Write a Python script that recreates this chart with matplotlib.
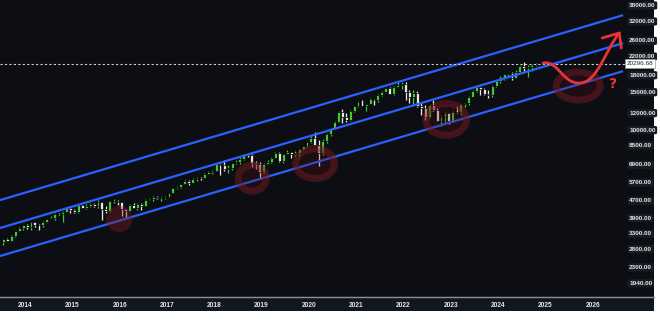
import numpy as np
import matplotlib
matplotlib.use("Agg")
import matplotlib.pyplot as plt
from matplotlib.patches import Rectangle, Ellipse, PathPatch
from matplotlib.path import Path
from matplotlib.lines import Line2D
import matplotlib.transforms as mtransforms

# Monthly Nasdaq 100 candles, Jul 2013 .. Oct 2024 (close, high, low)
start_year, start_month = 2013, 7
closes = [
    3085, 3049, 3218, 3379, 3499, 3592,
    3540, 3721, 3595, 3592, 3736, 3849, 3873, 4071, 4049, 4158, 4337, 4236,
    4152, 4440, 4334, 4415, 4508, 4397, 4591, 4274, 4181, 4648, 4665, 4593,
    4280, 4202, 4484, 4341, 4523, 4418, 4731, 4771, 4876, 4801, 4811, 4864,
    5094, 5330, 5436, 5584, 5788, 5647, 5880, 5988, 5979, 6248, 6367, 6397,
    6950, 6855, 6581, 6605, 6967, 7040, 7272, 7660, 7628, 6967, 6949, 6330,
    6906, 7097, 7378, 7781, 7128, 7672, 7848, 7692, 7750, 8083, 8403, 8733,
    9150, 8462, 7813, 8890, 9555, 10157, 10905, 12111, 11418, 11052, 12268, 12888,
    12925, 12909, 13091, 13860, 13687, 14554, 14960, 15583, 14690, 15850, 16135, 16320,
    14931, 14237, 14838, 12855, 12643, 11503, 12948, 12272, 10971, 11406, 11952, 10940,
    12102, 12042, 13181, 13246, 14254, 15180, 15758, 15501, 14715, 14410, 15947, 16826,
    17137, 18044, 18255, 17441, 18537, 19683, 19363, 19575, 20061, 20296.68,
]
highs = [
    3097, 3129, 3250, 3390, 3510, 3600,
    3625, 3728, 3738, 3640, 3743, 3855, 3960, 4085, 4115, 4169, 4345, 4340,
    4290, 4450, 4480, 4529, 4546, 4580, 4695, 4630, 4400, 4660, 4735, 4720,
    4580, 4295, 4500, 4570, 4535, 4540, 4735, 4815, 4890, 4900, 4870, 4920,
    5100, 5345, 5460, 5590, 5830, 5850, 5935, 6000, 6000, 6260, 6400, 6460,
    7022, 7000, 7187, 6825, 7000, 7245, 7470, 7690, 7690, 7700, 7150, 7100,
    6960, 7200, 7430, 7850, 7845, 7715, 8030, 7900, 7920, 8130, 8430, 8760,
    9300, 9730, 8950, 9000, 9600, 10210, 10990, 12150, 12440, 12000, 12350, 12900,
    13500, 13800, 13200, 14060, 13850, 14580, 15100, 15600, 15700, 15870, 16770, 16570,
    16580, 15300, 15270, 15100, 13350, 12950, 13000, 13720, 12620, 11600, 12050, 11940,
    12200, 12880, 13210, 13300, 14320, 15280, 15930, 15800, 15600, 15300, 16170, 16970,
    17660, 18140, 18420, 18470, 18900, 20000, 20690, 19960, 20200, 20450,
]
lows = [
    2905, 3044, 3030, 3174, 3360, 3422,
    3452, 3417, 3521, 3412, 3525, 3710, 3835, 3790, 4005, 3700, 4135, 4110,
    4087, 4100, 4300, 4290, 4390, 4380, 4300, 3787, 4080, 4150, 4580, 4460,
    3960, 3927, 4190, 4300, 4240, 4210, 4400, 4700, 4680, 4780, 4660, 4770,
    4870, 5080, 5290, 5340, 5580, 5520, 5620, 5780, 5830, 5980, 6210, 6250,
    6400, 6165, 6400, 6310, 6520, 6930, 6950, 7220, 7475, 6730, 6540, 5895,
    6260, 6890, 7000, 7400, 7100, 7000, 7670, 7400, 7550, 7540, 8070, 8280,
    8680, 8450, 6771, 7600, 8700, 9370, 10130, 10880, 10680, 10900, 11000, 12100,
    12700, 12880, 12210, 13100, 12970, 13500, 14400, 14950, 14650, 14500, 15700, 15500,
    13720, 13320, 13020, 12760, 11670, 11040, 11360, 12200, 10960, 10440, 10880, 10670,
    10880, 11960, 11700, 12700, 13000, 14150, 15000, 14560, 14500, 14060, 14120, 15700,
    16540, 17050, 17800, 16970, 17400, 18550, 18700, 17500, 18800, 19800,
]
last_price = 20296.68

# Channel lines drawn on the chart (start/end date, start/end price)
channel_dates = [2013.47, 2026.64]
channel_upper = [4700, 34060]
channel_middle = [3486, 25240]
channel_lower = [2582, 18700]

# Red highlight marks: (year, price, width px, height px)
highlight_year = [2015.99, 2018.80, 2020.13, 2022.90, 2025.69]
highlight_price = [3840, 5950, 6950, 11150, 15950]
highlight_w = [26, 35, 46, 48, 51]
highlight_h = [26, 33, 37, 39, 35]

# Red projected path (bezier control points) and arrow head
proj_year = [2024.95, 2025.27, 2025.35, 2025.73, 2026.11, 2026.26, 2026.56]
proj_price = [20400, 21070, 16300, 16470, 16650, 23450, 28130]
arrow_year = [2026.20, 2026.56, 2026.60]
arrow_price = [26680, 28130, 23960]

years = list(range(2014, 2027))
price_ticks = [38000, 32000, 26000, 22000, 18000, 15000, 12000, 10000, 8500,
               6900, 5700, 4700, 3900, 3300, 2800, 2300, 1940]

BG = "#0c0e14"
STRIP = "#12161f"
UP = "#43c43a"
DOWN = "#e6e6e6"
BLUE = "#2962ff"
RED = "#e8333a"
LABEL_FONT = ["DejaVu Sans Condensed", "Liberation Sans Narrow", "Liberation Sans", "DejaVu Sans"]

W, H = 660, 330
fig = plt.figure(figsize=(6.6, 3.3), dpi=100, facecolor="white")
fig.patches.append(Rectangle((0, 1 - 311 / H), 654 / W, 311 / H, transform=fig.transFigure,
                             facecolor=BG, edgecolor="none", zorder=-5))
fig.patches.append(Rectangle((0, 1 - 311 / H), 654 / W, 15 / H, transform=fig.transFigure,
                             facecolor=STRIP, edgecolor="none", zorder=-4))
fig.lines.append(Line2D([0, 654 / W], [1 - 296.5 / H] * 2, transform=fig.transFigure,
                        color="#8a8d94", lw=1.0, zorder=-3))

ax = fig.add_axes([0, 1 - 295 / H, 625 / W, 295 / H])
ax.set_zorder(1)
ax.set_facecolor(BG)
ax.set_yscale("log")
ax.set_xlim(2013.47, 2026.68)
ax.set_ylim(1702, 40060)
for s in ax.spines.values():
    s.set_visible(False)

# candles
n = len(closes)
dates = np.array([start_year + (start_month - 1 + i + 0.5) / 12 for i in range(n)])
closes_a = np.array(closes, dtype=float)
opens_a = np.concatenate([[3000.0], closes_a[:-1]])
highs_a = np.array(highs, dtype=float)
lows_a = np.array(lows, dtype=float)
cols = np.where(closes_a >= opens_a, UP, DOWN)
ax.vlines(dates, lows_a, highs_a, colors="black", lw=2.6, zorder=2)
ax.vlines(dates, lows_a, highs_a, colors=cols, lw=1.0, zorder=3)
body_lo = np.minimum(opens_a, closes_a)
body_h = np.abs(closes_a - opens_a)
ax.bar(dates, body_h, bottom=body_lo, width=0.062, color=cols, edgecolor="black",
       linewidth=0.5, zorder=4)

# channel
for vals in (channel_upper, channel_middle, channel_lower):
    ax.plot(channel_dates, vals, color=BLUE, lw=1.6, zorder=5, solid_capstyle="butt")

# current price line
ax.axhline(last_price, color="#d0d0d0", lw=0.8, ls=(0, (2, 2)), zorder=5)

# highlight circles
for yr, pr, w, h in zip(highlight_year, highlight_price, highlight_w, highlight_h):
    tr = fig.dpi_scale_trans + mtransforms.ScaledTranslation(yr, pr, ax.transData)
    if w < 30:
        e = Ellipse((0, 0), w / 100, h / 100, transform=tr, facecolor=(0.5, 0.1, 0.13, 0.4),
                    edgecolor="none", zorder=6)
    else:
        e = Ellipse((0, 0), (w - 7) / 100, (h - 7) / 100, transform=tr,
                    facecolor=(0.35, 0.05, 0.08, 0.25), edgecolor=(0.45, 0.1, 0.13, 0.5),
                    lw=5, zorder=6)
    ax.add_patch(e)

# projected path
verts = list(zip(proj_year, proj_price))
codes = [Path.MOVETO, Path.CURVE4, Path.CURVE4, Path.CURVE4, Path.CURVE4, Path.CURVE4, Path.CURVE4]
ax.add_patch(PathPatch(Path(verts, codes), facecolor="none", edgecolor=RED, lw=2.0,
                       capstyle="round", zorder=7))
ax.plot(arrow_year, arrow_price, color=RED, lw=2.0, solid_capstyle="round",
        solid_joinstyle="round", zorder=7)
ax.text(2026.43, 16300, "?", color=RED, fontsize=10, fontweight="bold",
        ha="center", va="center", zorder=7)

# axes ticks / labels
ax.yaxis.tick_right()
ax.set_yticks(price_ticks)
ax.set_yticklabels([f"{v:.2f}" for v in price_ticks])
ax.yaxis.set_minor_locator(matplotlib.ticker.NullLocator())
ax.tick_params(axis="y", length=0, pad=3, labelsize=4.6, labelcolor="#e4e4e4")
for lab in ax.get_yticklabels():
    lab.set_fontweight("bold")
    lab.set_family(LABEL_FONT)
    lab.set_bbox(dict(boxstyle="round,pad=0.25", facecolor="#181c25", edgecolor="none"))

ax.set_xticks(years)
ax.set_xticklabels([str(y) for y in years])
ax.tick_params(axis="x", length=0, pad=5, labelsize=4.8, labelcolor="#e4e4e4")
for lab in ax.get_xticklabels():
    lab.set_fontweight("bold")
    lab.set_family(LABEL_FONT)

ax.text(1.003, last_price, f"{last_price:.2f}", transform=ax.get_yaxis_transform(),
        fontsize=4.6, family=LABEL_FONT, color="#222222", ha="left", va="center",
        zorder=10, clip_on=False,
        bbox=dict(boxstyle="square,pad=0.3", facecolor="white", edgecolor="#999999", lw=0.5))

fig.savefig("out.png", dpi=100, facecolor="white")
